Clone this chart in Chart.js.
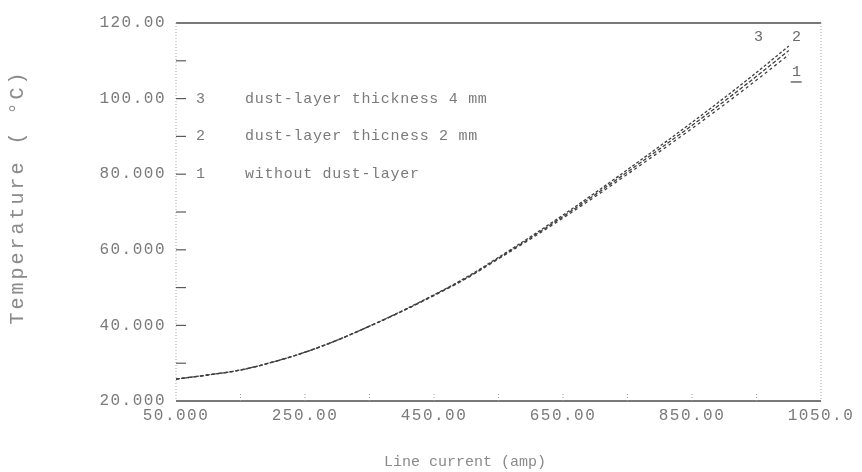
<!DOCTYPE html>
<html>
<head>
<meta charset="utf-8">
<script src="https://cdn.jsdelivr.net/npm/chart.js@4.4.1/dist/chart.umd.min.js"></script>
<style>
  html, body { margin:0; padding:0; background:#fff; }
  #wrap { width:862px; height:472px; }
</style>
</head>
<body>
<div id="wrap"><canvas id="tempChart" width="862" height="472"></canvas></div>
<script>
// line current (amp)
const current = [50,100,150,200,250,300,350,400,450,500,550,600,650,700,750,800,850,900,950,1000];
// temperature (deg C) for the three cases
const tempNoDust  = [25.8,26.9,28.2,30.3,32.9,36.1,39.8,43.7,47.9,52.4,57.6,62.9,68.4,74.1,80.0,86.0,92.1,98.4,104.9,111.6];
const tempDust2mm = [25.8,26.9,28.2,30.3,32.9,36.1,39.8,43.7,48.0,52.5,57.8,63.2,68.8,74.6,80.6,86.7,92.9,99.3,105.9,112.7];
const tempDust4mm = [25.8,26.9,28.2,30.3,32.9,36.1,39.8,43.8,48.1,52.7,58.0,63.5,69.2,75.1,81.2,87.4,93.7,100.2,106.9,113.9];

const xTicks = [50,250,450,650,850,1050];
const yTicks = [20,40,60,80,100,120];
const legendIds = ['3','2','1'];
const legendTexts = ['dust-layer thickness 4 mm','dust-layer thicness 2 mm','without dust-layer'];

const fmt = v => Number(v).toPrecision(5);

function hline(ctx, x1, y1, x2, y2) {
  ctx.beginPath(); ctx.moveTo(x1, y1); ctx.lineTo(x2, y2); ctx.stroke();
}

const paperPlot = {
  id: 'paperPlot',
  beforeDraw(chart) { chart.ctx.letterSpacing = '1.5px'; },
  afterDraw(chart) {
    const { ctx, chartArea: a, scales: { x, y } } = chart;
    ctx.save();
    ctx.letterSpacing = '0px';

    // frame: solid top/bottom, dotted left/right
    ctx.strokeStyle = '#4d4d4d'; ctx.lineWidth = 1.5;
    hline(ctx, a.left, a.top, a.right, a.top);
    hline(ctx, a.left, a.bottom, a.right, a.bottom);
    ctx.setLineDash([1, 2]); ctx.strokeStyle = '#a8a8a8'; ctx.lineWidth = 1;
    hline(ctx, a.left, a.top, a.left, a.bottom);
    hline(ctx, a.right, a.top, a.right, a.bottom);

    // small ticks inside the box
    ctx.setLineDash([]); ctx.strokeStyle = '#5a5a5a'; ctx.lineWidth = 1.2;
    for (let v = 30; v <= 110; v += 10) {
      const py = y.getPixelForValue(v);
      hline(ctx, a.left, py, a.left + 10, py);
    }
    ctx.setLineDash([1, 2]); ctx.strokeStyle = '#999'; ctx.lineWidth = 1;
    for (let v = 150; v <= 950; v += 100) {
      const px = x.getPixelForValue(v);
      hline(ctx, px, a.bottom, px, a.bottom - 7);
    }
    ctx.setLineDash([]);

    // legend written inside the plot
    ctx.font = '15px "Liberation Mono"';
    ctx.fillStyle = '#7a7a7a';
    ctx.textBaseline = 'middle';
    ctx.textAlign = 'left';
    ctx.letterSpacing = '0.7px';
    [100, 90, 80].forEach((v, i) => {
      const py = y.getPixelForValue(v);
      ctx.fillText(legendIds[i], a.left + 20, py);
      ctx.fillText(legendTexts[i], a.left + 69, py);
    });

    // curve numbers at the top right
    ctx.fillStyle = '#6a6a6a';
    ctx.fillText('3', x.getPixelForValue(946), y.getPixelForValue(116.3));
    ctx.fillText('2', x.getPixelForValue(1005), y.getPixelForValue(116.3));
    ctx.fillText('1', x.getPixelForValue(1005), y.getPixelForValue(107));
    ctx.strokeStyle = '#6a6a6a'; ctx.lineWidth = 1.5;
    hline(ctx, x.getPixelForValue(1003), y.getPixelForValue(104.4), x.getPixelForValue(1020), y.getPixelForValue(104.4));

    // axis titles
    ctx.fillStyle = '#8a8a8a';
    ctx.textAlign = 'center';
    ctx.font = '15px "Liberation Mono"';
    ctx.letterSpacing = '0px';
    ctx.fillText('Line current (amp)', 465, 462);

    ctx.translate(18, 197);
    ctx.rotate(-Math.PI / 2);
    ctx.font = '20px "Liberation Mono"';
    ctx.letterSpacing = '3px';
    ctx.fillText('Temperature ( \u00B0C)', 0, 0);
    ctx.restore();
  }
};

const makeSet = (label, values, dash) => ({
  label,
  data: current.map((c, i) => ({ x: c, y: values[i] })),
  borderColor: '#3f3f3f',
  borderWidth: 1.3,
  borderDash: dash,
  pointRadius: 0,
  fill: false,
  cubicInterpolationMode: 'monotone'
});

new Chart(document.getElementById('tempChart'), {
  type: 'line',
  data: {
    datasets: [
      makeSet('3 dust-layer thickness 4 mm', tempDust4mm, [3, 2]),
      makeSet('2 dust-layer thicness 2 mm', tempDust2mm, [4, 2]),
      makeSet('1 without dust-layer', tempNoDust, [3, 3])
    ]
  },
  options: {
    responsive: false,
    animation: false,
    devicePixelRatio: 1,
    layout: { padding: { left: 0, right: 41, top: 23, bottom: 0 } },
    plugins: { legend: { display: false }, tooltip: { enabled: false } },
    scales: {
      x: {
        type: 'linear', min: 50, max: 1050,
        border: { display: false },
        grid: { display: false, drawTicks: false },
        afterBuildTicks: s => { s.ticks = xTicks.map(v => ({ value: v })); },
        afterFit: s => { s.height = 71; },
        ticks: {
          padding: 5, autoSkip: false, maxRotation: 0, color: '#7a7a7a',
          font: { family: 'Liberation Mono', size: 16 },
          callback: v => fmt(v)
        }
      },
      y: {
        min: 20, max: 120,
        border: { display: false },
        grid: { display: false, drawTicks: false },
        afterBuildTicks: s => { s.ticks = yTicks.map(v => ({ value: v })); },
        afterFit: s => { s.width = 176; },
        ticks: {
          padding: 10, color: '#7a7a7a',
          font: { family: 'Liberation Mono', size: 16 },
          callback: v => fmt(v)
        }
      }
    }
  },
  plugins: [paperPlot]
});
</script>
</body>
</html>
